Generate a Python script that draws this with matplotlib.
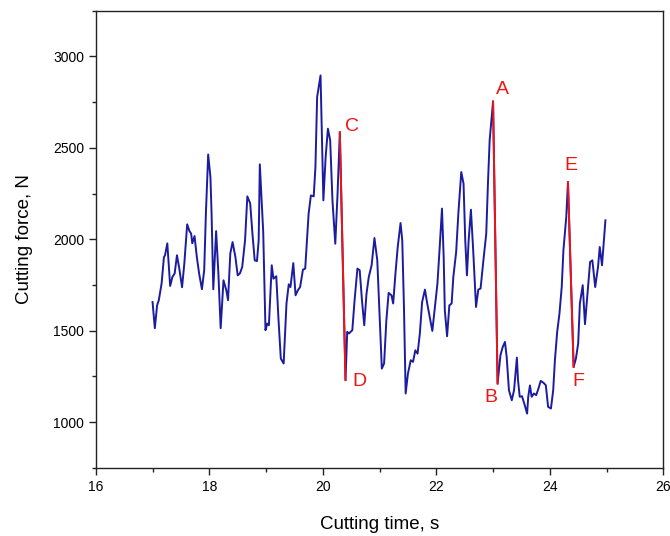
import numpy as np
import matplotlib
matplotlib.use("Agg")
import matplotlib.pyplot as plt
from matplotlib.ticker import MultipleLocator

plt.rcParams['font.family'] = ['Liberation Sans', 'DejaVu Sans']

# cutting time (s) and cutting force (N)
time_s = [
    17.00, 17.04, 17.08, 17.11, 17.16, 17.20, 17.22, 17.26, 17.31, 17.35,
    17.39, 17.43, 17.47, 17.52, 17.56, 17.61, 17.65, 17.68, 17.70, 17.74,
    17.78, 17.82, 17.87, 17.91, 17.94, 17.98, 18.02, 18.04, 18.07, 18.12,
    18.16, 18.20, 18.25, 18.30, 18.33, 18.37, 18.41, 18.46, 18.50, 18.54,
    18.58, 18.63, 18.67, 18.72, 18.76, 18.80, 18.84, 18.87, 18.89, 18.95,
    18.99, 19.02, 19.05, 19.10, 19.13, 19.18, 19.22, 19.26, 19.31, 19.36,
    19.40, 19.43, 19.48, 19.52, 19.56, 19.60, 19.65, 19.69, 19.72, 19.75,
    19.79, 19.84, 19.87, 19.90, 19.96, 20.01, 20.05, 20.09, 20.13, 20.17,
    20.22, 20.26, 20.30, 20.40, 20.43, 20.46, 20.52, 20.56, 20.61,
    20.65, 20.69, 20.73, 20.77, 20.81, 20.86, 20.91, 20.96, 20.99, 21.04,
    21.08, 21.12, 21.16, 21.21, 21.24, 21.28, 21.32, 21.37, 21.40, 21.43,
    21.46, 21.50, 21.55, 21.59, 21.63, 21.67, 21.71, 21.75, 21.80, 21.84,
    21.89, 21.93, 21.97, 22.02, 22.06, 22.10, 22.13, 22.15, 22.19, 22.23,
    22.27, 22.30, 22.35, 22.39, 22.44, 22.48, 22.51, 22.54, 22.57, 22.61,
    22.65, 22.70, 22.74, 22.78, 22.83, 22.88, 22.91, 22.94, 23.00, 23.08,
    23.13, 23.17, 23.21, 23.24, 23.28, 23.33, 23.37, 23.42, 23.44, 23.47,
    23.51, 23.55, 23.60, 23.62, 23.65, 23.68, 23.72, 23.76, 23.80, 23.84,
    23.89, 23.93, 23.97, 24.02, 24.06, 24.09, 24.13, 24.17, 24.21, 24.24,
    24.29, 24.32, 24.42, 24.46, 24.50, 24.53, 24.58, 24.62, 24.67, 24.71,
    24.75, 24.80, 24.85, 24.88, 24.92, 24.98,
]
force_n = [
    1657, 1514, 1639, 1667, 1760, 1902, 1913, 1978, 1745, 1794,
    1814, 1913, 1842, 1738, 1869, 2082, 2045, 2031, 1978, 2018,
    1903, 1814, 1727, 1831, 2142, 2464, 2340, 2140, 1727, 2045,
    1814, 1514, 1776, 1721, 1667, 1923, 1985, 1903, 1803, 1814,
    1849, 1995, 2235, 2197, 2031, 1885, 1881, 1995, 2410, 2040,
    1503, 1539, 1530, 1858, 1785, 1798, 1557, 1348, 1321, 1649,
    1754, 1739, 1870, 1694, 1721, 1739, 1834, 1840, 1995, 2140,
    2240, 2235, 2395, 2778, 2896, 2213, 2450, 2605, 2541, 2213,
    1976, 2250, 2586, 1230, 1494, 1485, 1503, 1667, 1840,
    1831, 1667, 1530, 1703, 1794, 1858, 2007, 1885, 1667, 1293,
    1321, 1557, 1707, 1694, 1649, 1813, 1958, 2089, 1995, 1630,
    1157, 1266, 1339, 1330, 1393, 1375, 1485, 1657, 1725, 1649,
    1567, 1499, 1612, 1758, 1958, 2168, 1903, 1612, 1470, 1639,
    1649, 1794, 1931, 2149, 2368, 2304, 1995, 1803, 1995, 2162,
    1940, 1630, 1725, 1731, 1885, 2031, 2304, 2541, 2754, 1211,
    1366, 1411, 1439, 1357, 1175, 1120, 1175, 1353, 1230, 1139,
    1142, 1102, 1047, 1139, 1201, 1139, 1157, 1148, 1184, 1226,
    1215, 1202, 1084, 1075, 1175, 1339, 1494, 1594, 1739, 1940,
    2122, 2313, 1302, 1348, 1430, 1649, 1749, 1536, 1721, 1876,
    1885, 1739, 1849, 1958, 1858, 2104,
]

# force drops highlighted in red: (start time, end time)
drops = [(20.30, 20.40), (23.00, 23.08), (24.32, 24.42)]

# point labels and where they sit (time, force)
labels = ["C", "D", "A", "B", "E", "F"]
label_t = [20.52, 20.65, 23.16, 22.96, 24.37, 24.50]
label_f = [2617, 1224, 2820, 1137, 2404, 1224]

t = np.array(time_s)
f = np.array(force_n)

fig = plt.figure(figsize=(6.7, 5.36), dpi=100)
ax = fig.add_axes([0.143, 0.127, 0.847, 0.853])

ax.plot(t, f, color='#1c1ca0', lw=1.4)
for t0, t1 in drops:
    m = (t >= t0 - 1e-9) & (t <= t1 + 1e-9)
    ax.plot(t[m], f[m], color='#f01414', lw=1.4)

for lab, lt, lf in zip(labels, label_t, label_f):
    ax.text(lt, lf, lab, color='#f01414', fontsize=14, ha='center', va='center')

ax.set_xlim(16, 26)
ax.set_ylim(750, 3250)
ax.xaxis.set_major_locator(MultipleLocator(2))
ax.xaxis.set_minor_locator(MultipleLocator(1))
ax.yaxis.set_minor_locator(MultipleLocator(250))
ax.set_yticks([1000, 1500, 2000, 2500, 3000])
ax.tick_params(which='major', direction='out', length=5, width=1, labelsize=10, color='#222222')
ax.tick_params(which='minor', direction='out', length=3, width=1, color='#222222')

for sp in ax.spines.values():
    sp.set_color('#222222')
    sp.set_linewidth(1)

ax.set_xlabel('Cutting time, s', fontsize=13.5, labelpad=16)
ax.set_ylabel('Cutting force, N', fontsize=13.5, labelpad=14)

fig.savefig('out.png', dpi=100)
